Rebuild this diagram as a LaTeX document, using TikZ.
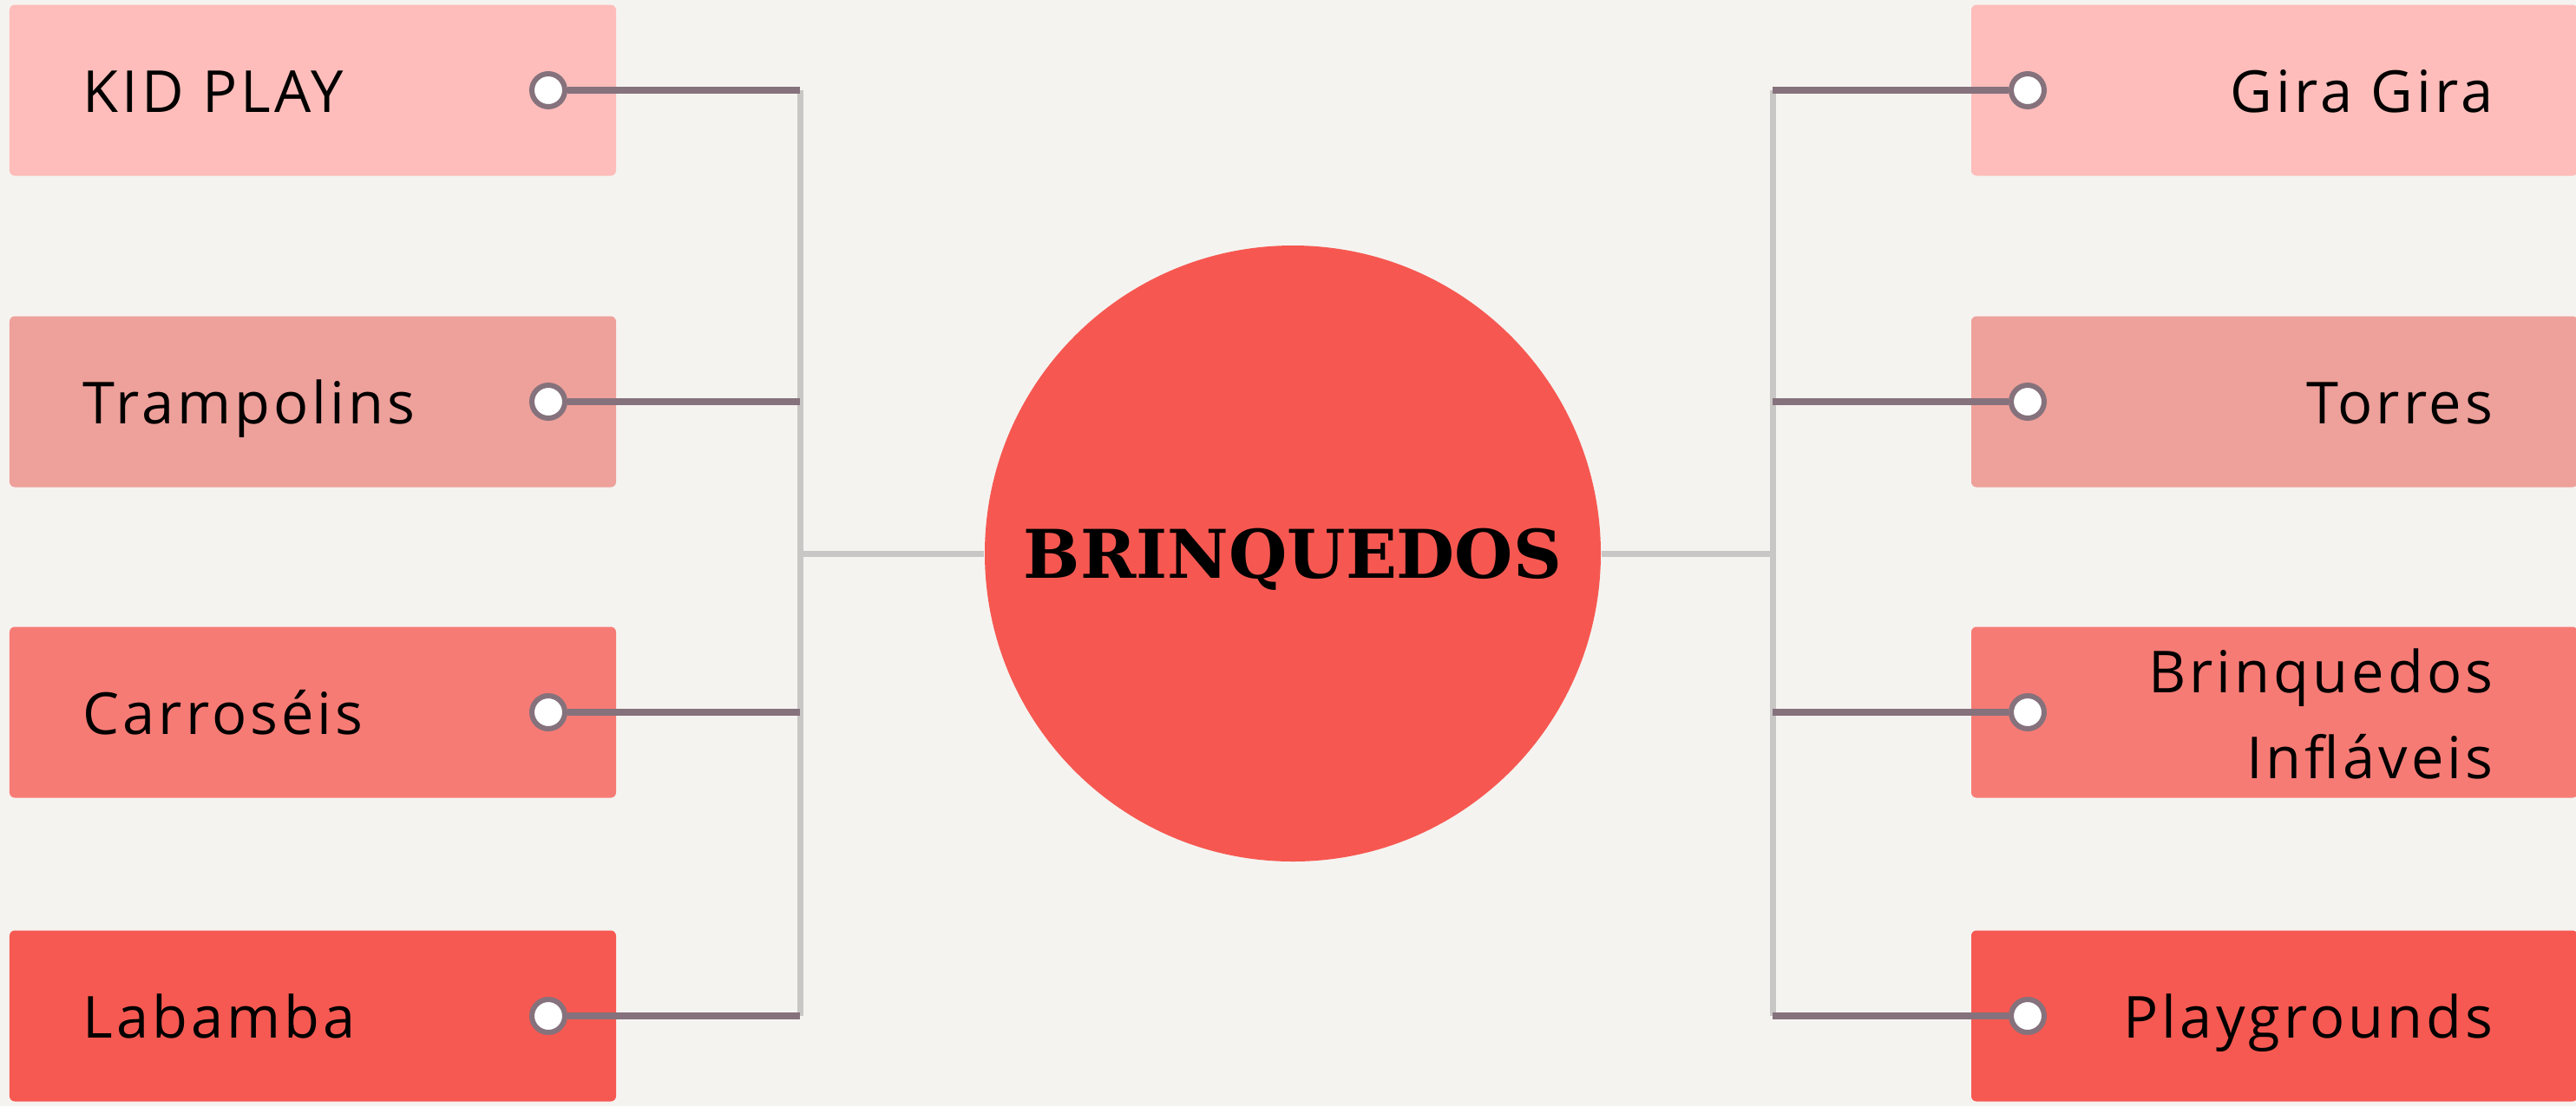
\documentclass[tikz,border=0pt]{standalone}
\usepackage{fontspec}
\setmainfont{Open Sans}
\newfontfamily\labelfont[LetterSpace=6]{Open Sans}
\newfontfamily\hubfont{DejaVu Serif}
\usetikzlibrary{positioning}
\definecolor{paper}{HTML}{F5F3F0}
\definecolor{rowone}{HTML}{FEBDBA}
\definecolor{rowtwo}{HTML}{EEA09A}
\definecolor{rowthree}{HTML}{F77B75}
\definecolor{rowfour}{HTML}{F65952}
\definecolor{hubred}{HTML}{F65851}
\definecolor{linkmauve}{HTML}{85727C}
\definecolor{spinegrey}{HTML}{C9C7C5}

\begin{document}
\begin{tikzpicture}[
  tag/.style={rounded corners=0.06cm, minimum width=6.99cm, minimum height=1.97cm, inner sep=0pt},
  tagtext/.style={font=\labelfont\fontsize{19}{28}\selectfont, text=black, inner sep=0pt},
  dot/.style={circle, draw=linkmauve, line width=0.06cm, fill=white, minimum size=0.38cm, inner sep=0pt},
  link/.style={draw=linkmauve, line width=0.075cm},
  spine/.style={draw=spinegrey, line width=0.07cm}]
  \fill[paper] (0,0) rectangle (29.69,-12.75);
  \useasboundingbox (0,0) rectangle (29.69,-12.75);

  % left column
  \foreach \name/\lab/\col/\y in {kid/KID PLAY/rowone/1.04, tramp/Trampolins/rowtwo/4.63,
      carro/Carroséis/rowthree/8.21, lab/Labamba/rowfour/11.71}{%
    \node[tag, fill=\col] (\name) at (3.605,-\y) {};
    \node[tagtext, anchor=base west] (\name-txt) at (0.95,-\y-0.25) {\lab};
    \node[dot] (\name-dot) at (6.32,-\y) {};}

  % right column
  \foreach \name/\lab/\col/\y in {gira/Gira Gira/rowone/1.04, torres/Torres/rowtwo/4.63,
      play/Playgrounds/rowfour/11.71}{%
    \node[tag, fill=\col] (\name) at (26.215,-\y) {};
    \node[tagtext, anchor=base east] (\name-txt) at (28.74,-\y-0.25) {\lab};
    \node[dot] (\name-dot) at (23.37,-\y) {};}
  \node[tag, fill=rowthree] (infl) at (26.215,-8.21) {};
  \node[tagtext, anchor=east, align=right] (infl-txt) at (28.74,-8.23) {Brinquedos\\Infláveis};
  \node[dot] (infl-dot) at (23.37,-8.21) {};

  % centre
  \node[circle, fill=hubred, minimum size=7.1cm, inner sep=0pt, text height=0.57cm, text depth=0cm,
    font=\hubfont\bfseries\fontsize{22}{26}\selectfont] (hub) at (14.9,-6.38) {BRINQUEDOS};

  \coordinate (lbar) at (9.22,-6.36);
  \coordinate (rbar) at (20.43,-6.36);
  \draw[spine] (kid-dot -| lbar) -- (lab-dot -| lbar);
  \draw[spine] (gira-dot -| rbar) -- (play-dot -| rbar);
  \draw[spine] (hub.west -| lbar) -- (hub.west);
  \draw[spine] (hub.east) -- (hub.east -| rbar);

  \foreach \name in {kid, tramp, carro, lab}
    \draw[link] (\name-dot.east) -- (\name-dot.east -| lbar);
  \foreach \name in {gira, torres, infl, play}
    \draw[link] (\name-dot.west) -- (\name-dot.west -| rbar);
\end{tikzpicture}
\end{document}
